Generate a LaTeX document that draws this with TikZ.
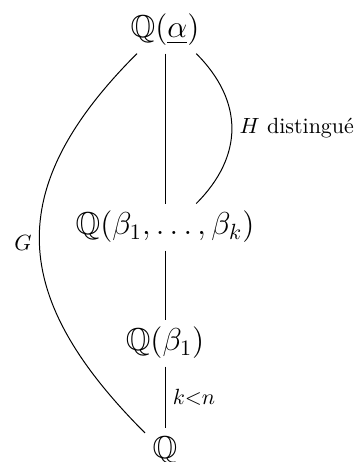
\documentclass[tikz,border=0pt]{standalone}
\usepackage{amssymb}
\begin{document}
\begin{tikzpicture}[x=0.4545pt,y=0.4545pt,
  field/.style={font=\Large, inner sep=3.3pt, anchor=base},
  lbl/.style={font=\normalsize, inner sep=3.3pt},
  conn/.style={line width=0.45pt}]
\useasboundingbox (0,0) rectangle (356,462);
\node[field] (qa) at (165,424) {$\mathbb{Q}(\underline{\alpha})$};
\node[field] (qb) at (165,227) {$\mathbb{Q}(\beta_1,\ldots,\beta_k)$};
\node[field] (q1) at (165,111) {$\mathbb{Q}(\beta_1)$};
\node[field] (q0) at (165,4) {$\mathbb{Q}$};
\draw[conn] (qa) -- (qb);
\draw[conn] (qb) -- (q1);
\draw[conn] (q1) -- node[lbl,right] {$k{<}n$} (q0);
\draw[conn] (qa.220) to[out=225,in=135,looseness=1.29] node[lbl,left] {$G$} (q0.140);
\draw[conn] (qa.-37) to[out=-45,in=45,looseness=1.15] node[lbl,right] {$H$ distingué} (qb.37);
\end{tikzpicture}
\end{document}
